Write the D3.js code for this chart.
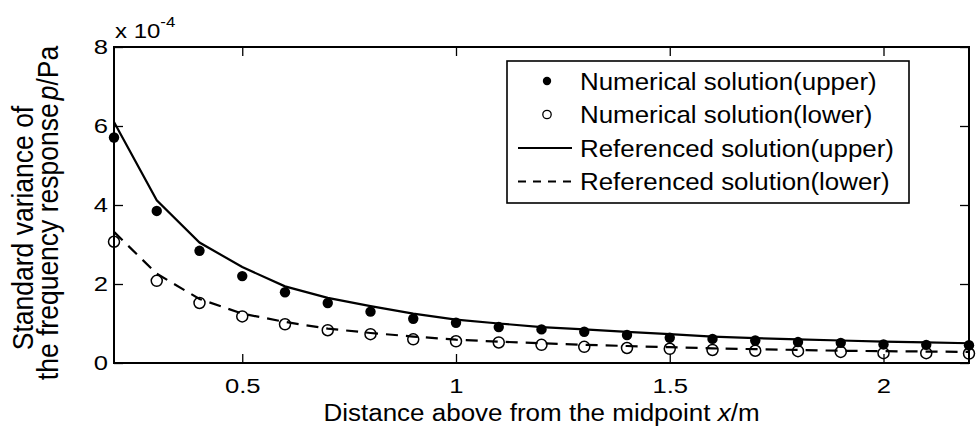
<!DOCTYPE html>
<html>
<head>
<meta charset="utf-8">
<script src="https://cdn.jsdelivr.net/npm/d3@7/dist/d3.min.js"></script>
<style>
  html, body { margin: 0; padding: 0; background: #fff; }
  svg { display: block; }
  text { font-family: "Liberation Sans", Arial, Helvetica, sans-serif; fill: #000; }
</style>
</head>
<body>
<svg id="chart" width="977" height="430"></svg>
<script>
// ---- data (values in units of 1e-4 Pa) ----
const xValues = [0.2, 0.3, 0.4, 0.5, 0.6, 0.7, 0.8, 0.9, 1.0, 1.1, 1.2, 1.3, 1.4, 1.5, 1.6, 1.7, 1.8, 1.9, 2.0, 2.1, 2.2];
const numericalUpper = [5.71, 3.85, 2.84, 2.20, 1.79, 1.52, 1.30, 1.12, 1.02, 0.91, 0.85, 0.79, 0.71, 0.64, 0.61, 0.57, 0.53, 0.51, 0.47, 0.46, 0.45];
const numericalLower = [3.07, 2.08, 1.52, 1.18, 0.98, 0.83, 0.73, 0.60, 0.55, 0.52, 0.46, 0.41, 0.38, 0.36, 0.33, 0.31, 0.30, 0.28, 0.25, 0.25, 0.24];
const referencedUpper = [6.10, 4.12, 3.05, 2.43, 1.94, 1.65, 1.44, 1.25, 1.10, 1.00, 0.91, 0.85, 0.79, 0.73, 0.67, 0.63, 0.60, 0.57, 0.54, 0.52, 0.50];
const referencedLower = [3.32, 2.26, 1.62, 1.25, 1.04, 0.87, 0.76, 0.67, 0.59, 0.54, 0.50, 0.46, 0.43, 0.40, 0.37, 0.35, 0.33, 0.31, 0.30, 0.29, 0.28];
const xTicks = [0.5, 1, 1.5, 2];
const xTickLabels = ["0.5", "1", "1.5", "2"];
const yTicks = [0, 2, 4, 6, 8];
const yTickLabels = ["0", "2", "4", "6", "8"];
const legendLabels = ["Numerical solution(upper)", "Numerical solution(lower)", "Referenced solution(upper)", "Referenced solution(lower)"];

// ---- layout ----
const svg = d3.select("#chart");
const pLeft = 114, pRight = 969, pTop = 47, pBottom = 363;
const x = d3.scaleLinear().domain([0.2, 2.2]).range([pLeft, pRight]);
const y = d3.scaleLinear().domain([0, 8]).range([pBottom, pTop]);
const tickFont = 21, tickStretch = 1.22;

// axes (inward ticks on all four sides)
const axB = svg.append("g").attr("transform", `translate(0,${pBottom})`)
  .call(d3.axisBottom(x).tickValues(xTicks).tickFormat((d, i) => xTickLabels[i]).tickSizeInner(-9).tickSizeOuter(0).tickPadding(15));
const axT = svg.append("g").attr("transform", `translate(0,${pTop})`)
  .call(d3.axisTop(x).tickValues(xTicks).tickFormat("").tickSizeInner(-9).tickSizeOuter(0));
const axL = svg.append("g").attr("transform", `translate(${pLeft},0)`)
  .call(d3.axisLeft(y).tickValues(yTicks).tickFormat((d, i) => yTickLabels[i]).tickSizeInner(-9).tickSizeOuter(0).tickPadding(5));
const axR = svg.append("g").attr("transform", `translate(${pRight},0)`)
  .call(d3.axisRight(y).tickValues(yTicks).tickFormat("").tickSizeInner(-9).tickSizeOuter(0));
[axB, axT, axL, axR].forEach(g => {
  g.select(".domain").remove();
  g.selectAll(".tick line").attr("stroke", "#000").attr("stroke-width", 1.3);
  g.selectAll("text").attr("font-size", tickFont).attr("font-family", "Liberation Sans, Arial, sans-serif")
    .attr("fill", "#000").attr("transform", `scale(${tickStretch},1)`);
});
axB.selectAll("text").attr("dy", "0.71em");

// series
const ptsU = xValues.map((d, i) => [d, referencedUpper[i]]);
const ptsL = xValues.map((d, i) => [d, referencedLower[i]]);
const line = d3.line().x(d => x(d[0])).y(d => y(d[1]));
svg.append("path").attr("d", line(ptsU)).attr("fill", "none").attr("stroke", "#000").attr("stroke-width", 2.2);
svg.append("path").attr("d", line(ptsL)).attr("fill", "none").attr("stroke", "#000").attr("stroke-width", 2.2).attr("stroke-dasharray", "12,8");

svg.append("g").selectAll("circle").data(xValues).join("circle")
  .attr("cx", d => x(d)).attr("cy", (d, i) => y(numericalUpper[i])).attr("r", 5.2).attr("fill", "#000");
svg.append("g").selectAll("circle").data(xValues).join("circle")
  .attr("cx", d => x(d)).attr("cy", (d, i) => y(numericalLower[i])).attr("r", 5.5)
  .attr("fill", "none").attr("stroke", "#000").attr("stroke-width", 1.5);

// box
svg.append("rect").attr("x", pLeft).attr("y", pTop).attr("width", pRight - pLeft).attr("height", pBottom - pTop)
  .attr("fill", "none").attr("stroke", "#000").attr("stroke-width", 2);

// exponent
const ex = svg.append("text").attr("transform", "translate(115,38) scale(1.2,1)").attr("font-size", 20);
ex.append("tspan").text("x 10");
ex.append("tspan").attr("dy", -11).attr("font-size", 14).text("-4");

// x label
const xl = svg.append("text").attr("transform", `translate(${(pLeft + pRight) / 2},421) scale(1.13,1)`)
  .attr("text-anchor", "middle").attr("font-size", 23);
xl.append("tspan").text("Distance above from the midpoint ");
xl.append("tspan").attr("font-style", "italic").text("x");
xl.append("tspan").text("/m");

// y label (two lines)
svg.append("text").attr("transform", "translate(33,228) rotate(-90) scale(1,1.12)").attr("text-anchor", "middle")
  .attr("font-size", 26.5).text("Standard variance of");
const yl2 = svg.append("text").attr("transform", "translate(58,213) rotate(-90) scale(1,1.12)").attr("text-anchor", "middle")
  .attr("font-size", 26.5);
yl2.append("tspan").text("the frequency response");
yl2.append("tspan").attr("dx", 3).attr("font-style", "italic").text("p");
yl2.append("tspan").text("/Pa");

// legend
const lg = svg.append("g");
lg.append("rect").attr("x", 507).attr("y", 61).attr("width", 402).attr("height", 142)
  .attr("fill", "#fff").attr("stroke", "#000").attr("stroke-width", 1.6);
const rowY = [81, 114.5, 148, 181.5];
lg.append("circle").attr("cx", 547).attr("cy", rowY[0]).attr("r", 4.2).attr("fill", "#000");
lg.append("circle").attr("cx", 547).attr("cy", rowY[1]).attr("r", 4.2).attr("fill", "none").attr("stroke", "#000").attr("stroke-width", 1.3);
lg.append("line").attr("x1", 518).attr("x2", 572).attr("y1", rowY[2]).attr("y2", rowY[2]).attr("stroke", "#000").attr("stroke-width", 2.2);
lg.append("line").attr("x1", 518).attr("x2", 572).attr("y1", rowY[3]).attr("y2", rowY[3]).attr("stroke", "#000").attr("stroke-width", 2.2).attr("stroke-dasharray", "8,7");
lg.selectAll("text.lt").data(legendLabels).join("text").attr("class", "lt")
  .attr("transform", (d, i) => `translate(580,${rowY[i]}) scale(1.08,1)`)
  .attr("dy", "0.36em").attr("font-size", 24).text(d => d);
</script>
</body>
</html>
